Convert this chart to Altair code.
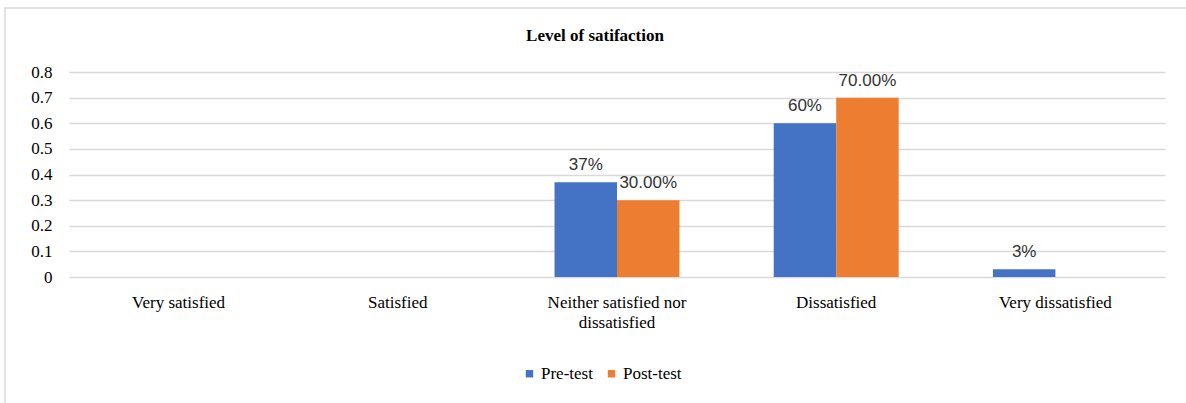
import altair as alt
import pandas as pd

categories = ["Very satisfied", "Satisfied", "Neither satisfied nor dissatisfied",
              "Dissatisfied", "Very dissatisfied"]
series = ["Pre-test", "Post-test"]
pre_values = [0, 0, 0.37, 0.60, 0.03]
post_values = [0, 0, 0.30, 0.70, 0]
pre_labels = ["", "", "37%", "60%", "3%"]
post_labels = ["", "", "30.00%", "70.00%", ""]
y_ticks = [0, 0.1, 0.2, 0.3, 0.4, 0.5, 0.6, 0.7, 0.8]
colors = ["#4472C4", "#ED7D31"]
title_text = "Level of satifaction"

rows = []
for c, v, l in zip(categories, pre_values, pre_labels):
    rows.append({"category": c, "series": "Pre-test", "value": v, "label": l})
for c, v, l in zip(categories, post_values, post_labels):
    rows.append({"category": c, "series": "Post-test", "value": v, "label": l})
df = pd.DataFrame(rows)

serif = "Liberation Serif"

x_enc = alt.X(
    "category:N", sort=categories, title=None,
    scale=alt.Scale(paddingInner=0.43, paddingOuter=0.215),
    axis=alt.Axis(
        labelAngle=0, domain=False, ticks=False, grid=False,
        labelFont=serif, labelFontSize=17, labelColor="#000000",
        labelPadding=17, labelLineHeight=20, labelLimit=300,
        labelExpr="datum.label == 'Neither satisfied nor dissatisfied' ? ['Neither satisfied nor', 'dissatisfied'] : datum.label",
    ),
)
xo_enc = alt.XOffset("series:N", sort=series, scale=alt.Scale(paddingInner=0))
y_enc = alt.Y(
    "value:Q", title=None,
    scale=alt.Scale(domain=[0, 0.8], nice=False),
    axis=alt.Axis(
        values=y_ticks, tickCount=9, format="~g", domain=False, ticks=False,
        labelFont=serif, labelFontSize=17, labelColor="#000000",
        labelPadding=17, gridColor="#d9d9d9", gridWidth=1.5,
        labelOverlap=False,
    ),
)
color_enc = alt.Color(
    "series:N", sort=series,
    scale=alt.Scale(domain=series, range=colors),
    legend=alt.Legend(
        title=None, orient="none", legendX=452, legendY=293,
        direction="horizontal", symbolType="square", symbolSize=55,
        symbolStrokeWidth=0, labelFont=serif, labelFontSize=17,
        labelColor="#000000", columnPadding=10, labelOffset=3,
    ),
)

bars = alt.Chart(df).mark_bar().encode(
    x=x_enc, xOffset=xo_enc, y=y_enc, color=color_enc
)

texts = alt.Chart(df).transform_filter("datum.label != ''").mark_text(
    font="Liberation Sans", fontSize=17, baseline="alphabetic", dy=-12,
    color="#333333",
).encode(
    x=x_enc, xOffset=xo_enc, y=y_enc,
    text="label:N",
)

frame = alt.Chart(pd.DataFrame({"k": [0]})).mark_rect(
    fill=None, stroke="#d9d9d9", strokeWidth=1.5
).encode(
    x=alt.value(-64), x2=alt.value(1200), y=alt.value(-64), y2=alt.value(400)
)

title = alt.Chart(pd.DataFrame({"t": [title_text]})).mark_text(
    font=serif, fontSize=17, fontWeight="bold", color="#000000",
    align="center", baseline="alphabetic",
).encode(x=alt.value(526), y=alt.value(-31), text="t:N")

chart = alt.layer(frame, bars, texts, title).properties(
    width=1096, height=205,
    autosize=alt.AutoSizeParams(type="none"),
    padding={"left": 69, "top": 72, "right": 21, "bottom": 126},
    background="white",
).configure_view(stroke=None)

chart.save("out.html", embed_options={"renderer": "svg", "actions": False})
